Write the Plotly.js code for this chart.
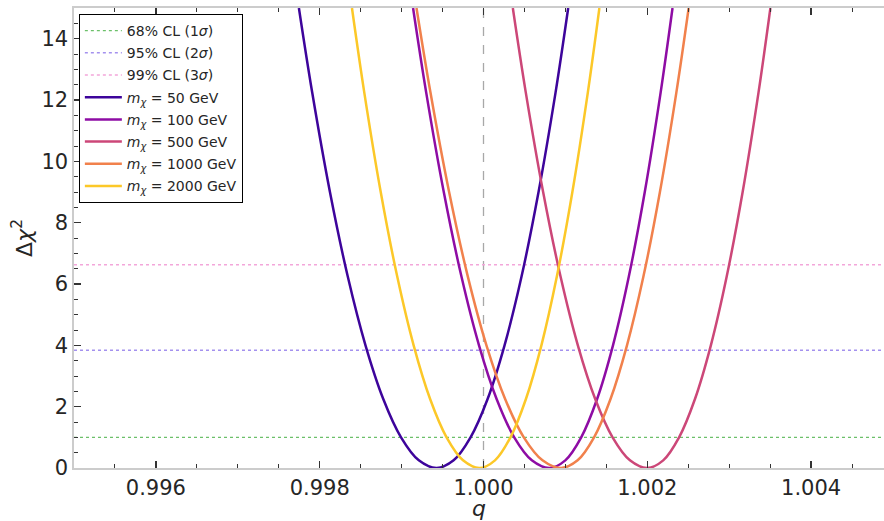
<!DOCTYPE html>
<html>
<head>
<meta charset="utf-8">
<script src="https://cdn.plot.ly/plotly-3.0.1.min.js"></script>
<style>html,body{margin:0;padding:0;background:#fff;}#chart{width:884px;height:521px;}</style>
</head>
<body>
<div id="chart"></div>
<script>
// Δχ² sample levels at which each curve was read (left branch top→min, right branch min→top)
const chi2Levels = [15, 12.25, 9, 6.25, 4, 2.25, 1, 0.25, 0, 0.25, 1, 2.25, 4, 6.25, 9, 12.25, 15];
// q values for each mass
const q_m50   = [0.997746, 0.997908, 0.998125, 0.998342, 0.998559, 0.998776, 0.998993, 0.999210, 0.999427, 0.999635, 0.999842, 1.000050, 1.000257, 1.000465, 1.000672, 1.000880, 1.001034];
const q_m100  = [0.999140, 0.999300, 0.999515, 0.999730, 0.999945, 1.000160, 1.000375, 1.000590, 1.000805, 1.000999, 1.001193, 1.001387, 1.001581, 1.001775, 1.001969, 1.002163, 1.002308];
const q_m500  = [1.000358, 1.000516, 1.000728, 1.000940, 1.001152, 1.001364, 1.001576, 1.001788, 1.002000, 1.002194, 1.002388, 1.002582, 1.002776, 1.002970, 1.003164, 1.003358, 1.003503];
const q_m1000 = [0.999182, 0.999352, 0.999580, 0.999808, 1.000036, 1.000264, 1.000492, 1.000720, 1.000948, 1.001149, 1.001350, 1.001551, 1.001752, 1.001953, 1.002154, 1.002355, 1.002505];
const q_m2000 = [0.998394, 0.998544, 0.998745, 0.998946, 0.999147, 0.999348, 0.999549, 0.999750, 0.999951, 1.000140, 1.000329, 1.000518, 1.000707, 1.000896, 1.001085, 1.001274, 1.001415];
const masses = [50, 100, 500, 1000, 2000];
const massColors = ['#3d049b', '#8e0ca4', '#cc4778', '#f1814c', '#fcc828'];
// confidence-level thresholds
const clNames = ['68% CL (1<i>σ</i>)', '95% CL (2<i>σ</i>)', '99% CL (3<i>σ</i>)'];
const clLevels = [1.0, 3.84, 6.63];
const clColors = ['#6cc06a', '#a491ee', '#f3a6da'];
const qRange = [0.995, 1.00489];
const yRange = [0, 15];
const qRef = 1.0;
const xTickVals = [0.996, 0.998, 1.0, 1.002, 1.004];
const xTickText = ['0.996', '0.998', '1.000', '1.002', '1.004'];
const yTickVals = [0, 2, 4, 6, 8, 10, 12, 14];

const qSeries = [q_m50, q_m100, q_m500, q_m1000, q_m2000];
const traces = [];
clLevels.forEach((lv, i) => {
  traces.push({
    x: qRange, y: [lv, lv], mode: 'lines', name: clNames[i],
    line: {color: clColors[i], width: 1.4, dash: 'dot'}, legendgroup: 'cl' + i,
    hoverinfo: 'skip'
  });
});
masses.forEach((m, i) => {
  traces.push({
    x: qSeries[i], y: chi2Levels, mode: 'lines',
    name: '<i>m</i><sub><i>χ</i></sub> = ' + m + ' GeV',
    line: {color: massColors[i], width: 2.5, shape: 'spline', smoothing: 1},
    legendgroup: 'm' + i
  });
});
// invisible trace to carry top axis ticks
traces.push({x: qRange, y: [null, null], xaxis: 'x2', yaxis: 'y', showlegend: false, hoverinfo: 'skip', mode: 'lines'});

const tickFont = {family: 'DejaVu Sans', size: 21, color: '#262626'};
const minorX = {dtick: 0.0005, tick0: 0.995, ticks: 'inside', ticklen: 4, tickwidth: 1, tickcolor: '#333333', showgrid: false};
const layout = {
  width: 884, height: 521,
  margin: {l: 74, r: 0, t: 8, b: 53},
  paper_bgcolor: '#ffffff', plot_bgcolor: '#ffffff',
  font: {family: 'DejaVu Sans', color: '#262626'},
  showlegend: true,
  legend: {
    x: 0.006, y: 0.987, xanchor: 'left', yanchor: 'top',
    bgcolor: '#ffffff', bordercolor: '#000000', borderwidth: 1,
    font: {family: 'DejaVu Sans', size: 14, color: '#262626'},
    tracegroupgap: 1, itemwidth: 37
  },
  xaxis: {
    range: qRange, showgrid: false, zeroline: false,
    showline: true, linecolor: '#cccccc', linewidth: 1.6, mirror: false,
    ticks: 'inside', ticklen: 7, tickwidth: 1.3, tickcolor: '#333333',
    tickvals: xTickVals, ticktext: xTickText,
    tickfont: tickFont, minor: minorX,
    title: {text: '<i>q</i>', font: {family: 'DejaVu Sans', size: 22, color: '#262626'}, standoff: 0}
  },
  xaxis2: {
    overlaying: 'x', side: 'top', matches: 'x', range: qRange,
    showgrid: false, zeroline: false, showticklabels: false,
    showline: true, linecolor: '#cccccc', linewidth: 1.6,
    ticks: 'inside', ticklen: 7, tickwidth: 1.3, tickcolor: '#333333',
    tickvals: xTickVals, minor: minorX
  },
  yaxis: {
    range: yRange, showgrid: false, zeroline: false,
    showline: true, linecolor: '#cccccc', linewidth: 1.6,
    ticks: 'inside', ticklen: 7, tickwidth: 1.3, tickcolor: '#333333',
    tickvals: yTickVals,
    tickfont: tickFont,
    minor: {dtick: 0.5, ticks: 'inside', ticklen: 4, tickwidth: 1, tickcolor: '#333333', showgrid: false},
    title: {text: 'Δ<i>χ</i><sup>2</sup>', font: {family: 'DejaVu Sans', size: 22, color: '#262626'}, standoff: 3}
  },
  shapes: [{
    type: 'line', xref: 'x', yref: 'paper', x0: qRef, x1: qRef, y0: 0, y1: 1,
    line: {color: '#a8a8a8', width: 1.3, dash: 'dash'}, layer: 'below'
  }]
};
Plotly.newPlot('chart', traces, layout, {displayModeBar: false, staticPlot: true});
</script>
</body>
</html>
